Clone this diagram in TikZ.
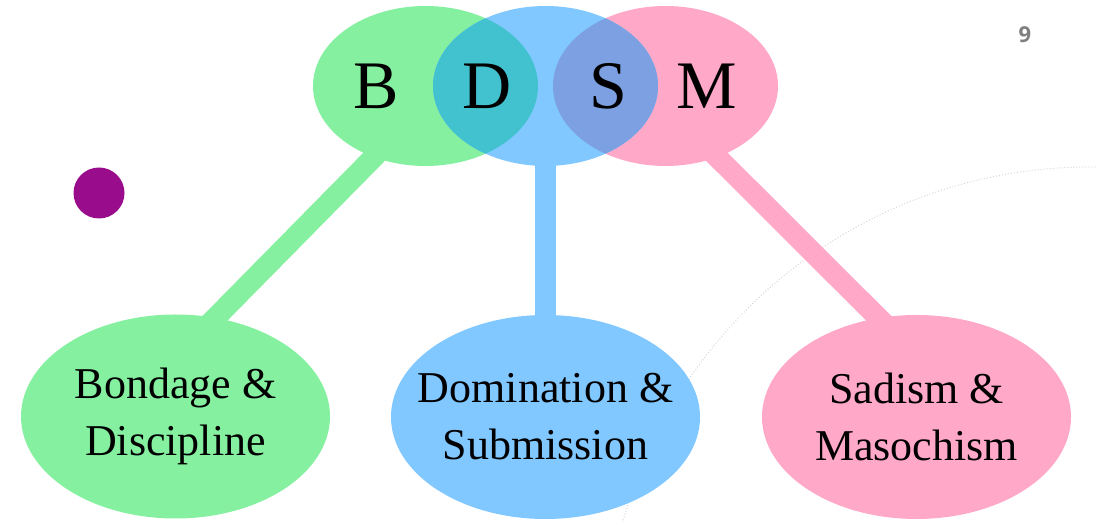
\documentclass[tikz,border=0pt]{standalone}
\usepackage{fontspec}
\setmainfont{Liberation Serif}
\newfontfamily\pagenumfont{Open Sans}
\usetikzlibrary{shapes.geometric,backgrounds}
\definecolor{bdgreen}{HTML}{84F0A0}
\definecolor{bdblue}{HTML}{80C8FF}
\definecolor{bdpink}{HTML}{FFA8C8}
\definecolor{bdteal}{HTML}{42C2CF}
\definecolor{bdviolet}{HTML}{7CA0E2}
\definecolor{bdpurple}{HTML}{990C8C}
\definecolor{arcgray}{HTML}{D6D6D6}
\definecolor{numgray}{HTML}{7F7F7F}
\begin{document}
\begin{tikzpicture}[x=1pt,y=1pt,
	topell/.style={ellipse, minimum width=225pt, minimum height=160pt, inner sep=0pt, outer sep=0pt},
	botell/.style={ellipse, minimum width=309pt, minimum height=204pt, inner sep=0pt, outer sep=0pt},
	bottext/.style={align=center, inner sep=0pt, font=\fontsize{44}{57}\selectfont},
	letter/.style={font=\fontsize{68}{68}\selectfont, inner sep=0pt},
	link/.style={line width=21pt, shorten <=-12pt, shorten >=-12pt}]%
	\useasboundingbox (0,0) rectangle (1097,521);
	\node[topell, fill=bdgreen] (gtop) at (425.5,435) {};
	\node[topell, fill=bdpink] (ptop) at (665.5,435) {};
	\node[topell, fill=bdblue] (btop) at (545.5,435) {};
	\begin{scope}
		\clip (btop.center) ellipse [x radius=112.5pt, y radius=80pt];
		\fill[bdteal] (gtop.center) ellipse [x radius=112.5pt, y radius=80pt];
		\fill[bdviolet] (ptop.center) ellipse [x radius=112.5pt, y radius=80pt];
	\end{scope}
	\node[letter] (lB) at (376,435) {B};
	\node[letter] (lD) at (487,435) {D};
	\node[letter] (lS) at (608,435) {S};
	\node[letter] (lM) at (707,435) {M};
	\node[botell, fill=bdgreen] (gbot) at (175.5,104.5) {};
	\node[botell, fill=bdblue] (bbot) at (545.5,104) {};
	\node[botell, fill=bdpink] (pbot) at (916.5,104) {};
	\node[bottext] (gtxt) at (gbot) {Bondage \&\\Discipline};
	\node[bottext] (btxt) at (bbot) {Domination \&\\Submission};
	\node[bottext] (ptxt) at (pbot) {Sadism \&\\Masochism};
	\begin{scope}[on background layer]
		\clip (0,0) rectangle (1097,521);
		\draw[arcgray, dotted, line width=1pt] (1090,-131) ++(89:485pt) arc[start angle=89, end angle=166, radius=485pt];
		\draw[link, bdgreen] (gtop.-126) -- (gbot.68.5);
		\draw[link, bdblue] (btop.south) -- (bbot.north);
		\draw[link, bdpink] (ptop.-54) -- (pbot.111.5);
	\end{scope}
	\node[font=\pagenumfont\bfseries\fontsize{22}{22}\selectfont, text=numgray] (pagenum) at (1025,486) {9};
	\node[circle, fill=bdpurple, minimum size=51pt, inner sep=0pt] (dot) at (99,328) {};
\end{tikzpicture}
\end{document}
